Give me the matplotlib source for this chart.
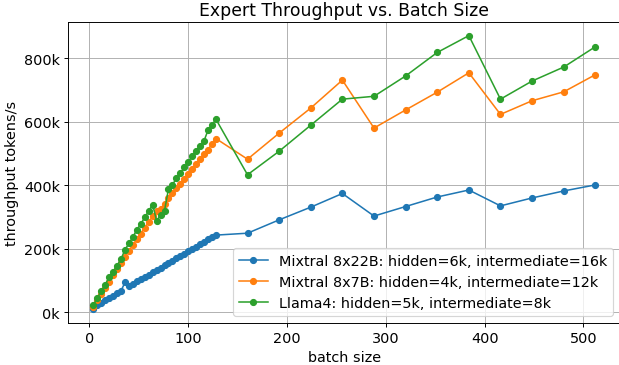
import matplotlib
matplotlib.use('Agg')
import matplotlib.pyplot as plt
from matplotlib.ticker import FuncFormatter

# batch sizes: 4..128 step 4, then 160..512 step 32
batch = list(range(4, 129, 4)) + list(range(160, 513, 32))

# throughput in tokens/s (thousands)
mixtral_22b = [10, 22, 30, 38, 45, 52, 60, 68, 94, 83, 89, 97, 104, 111, 119, 126,
               132, 140, 148, 155, 162, 170, 177, 185, 192, 199, 207, 215, 222, 230, 236, 243,
               249, 291, 331, 374, 303, 333, 363, 385, 335, 360, 382, 401]
mixtral_7b = [18, 38, 57, 77, 96, 116, 135, 155, 175, 194, 212, 230, 248, 266, 285, 302,
              318, 326, 340, 360, 376, 390, 405, 420, 436, 452, 467, 482, 497, 512, 530, 547,
              482, 564, 643, 731, 580, 637, 693, 754, 623, 666, 694, 748]
llama4 = [23, 45, 66, 87, 111, 128, 147, 168, 197, 217, 237, 260, 278, 299, 319, 339,
          288, 306, 320, 388, 401, 422, 438, 456, 472, 493, 507, 524, 540, 573, 589, 608,
          433, 507, 589, 671, 680, 744, 818, 871, 671, 728, 772, 836]

labels = ['Mixtral 8x22B: hidden=6k, intermediate=16k',
          'Mixtral 8x7B: hidden=4k, intermediate=12k',
          'Llama4: hidden=5k, intermediate=8k']

plt.rcParams['font.size'] = 12
dpi = 86

fig = plt.figure(figsize=(619 / dpi, 366 / dpi), dpi=dpi)
ax = fig.add_axes([0.1103, 0.1153, 0.892, 0.822])

for ys, lab in zip([mixtral_22b, mixtral_7b, llama4], labels):
    ax.plot(batch, [v * 1000 for v in ys], marker='o', markersize=5,
            linewidth=1.3, label=lab)

ax.yaxis.set_major_formatter(FuncFormatter(lambda v, p: f'{v / 1000:.0f}k'))
ax.set_xlabel('batch size')
ax.set_ylabel('throughput tokens/s')
ax.set_title('Expert Throughput vs. Batch Size')
ax.grid(True)
ax.legend(loc='lower right')

plt.savefig('out.png', dpi=dpi)
